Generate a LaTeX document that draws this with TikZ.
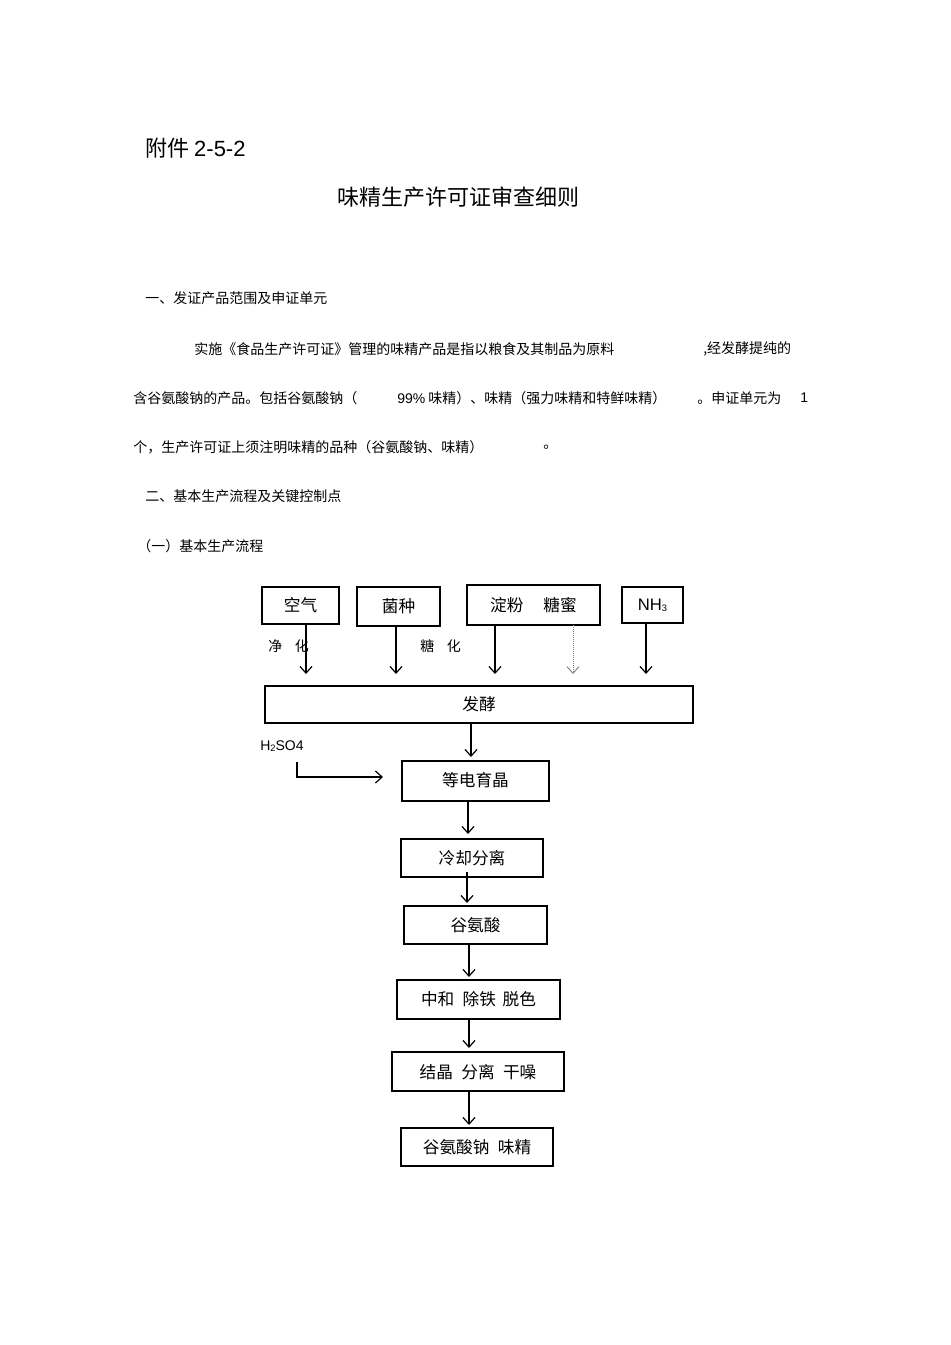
\documentclass[tikz,border=0pt]{standalone}
\usepackage{fontspec}
\setmainfont{Noto Sans CJK SC}
\setsansfont{Liberation Sans}
\usetikzlibrary{arrows.meta}
\begin{document}
\begin{tikzpicture}[x=0.75pt,y=-0.75pt,
  bx/.style={draw,line width=0.8pt,inner sep=0pt},
  ar/.style={-{Straight Barb[length=5pt,width=9pt,line width=0.9pt]},line width=0.9pt},
  tx/.style={anchor=west,inner sep=0pt,font=\fontsize{10.5pt}{12pt}\selectfont},
  bt/.style={font=\fontsize{12.5pt}{14pt}\selectfont}]
\useasboundingbox (0,0) rectangle (950,1345);
\node[anchor=west,inner sep=0pt,font=\fontsize{16.5pt}{18pt}\selectfont] (h) at (145,148) {附件 \textsf{2-5-2}};
\node[inner sep=0pt,font=\fontsize{16.5pt}{18pt}\selectfont] (t) at (458,197) {味精生产许可证审查细则};
\node[tx] (l1) at (145,298) {一、发证产品范围及申证单元};
\node[tx] (l2) at (194,349) {实施《食品生产许可证》管理的味精产品是指以粮食及其制品为原料};
\node[tx] (l2b) at (703,349) {,经发酵提纯的};
\node[tx] (l3) at (133,398) {含谷氨酸钠的产品。包括谷氨酸钠（};
\node[tx] (l3b) at (397,398) {\textsf{99\%} 味精）、味精（强力味精和特鲜味精）};
\node[tx] (l3c) at (697,398) {。申证单元为};
\node[tx] (l3d) at (800,398) {\textsf{1}};
\node[tx] (l4) at (133,447) {个，生产许可证上须注明味精的品种（谷氨酸钠、味精）};
\node[tx] (l4b) at (543,447) {。};
\node[tx] (l5) at (145,496) {二、基本生产流程及关键控制点};
\node[tx] (l6) at (137,546) {（一）基本生产流程};
% boxes
\draw[line width=0.8pt] (262,587) rectangle (339,624); \node[bt] (kq) at (300.5,605) {空气};
\draw[line width=0.8pt] (357,587) rectangle (440,626); \draw[line width=1.6pt] (357,587)--(440,587); \node[bt] (jz) at (398.5,606) {菌种};
\draw[line width=0.8pt] (467,585) rectangle (600,625); \node[bt] (df) at (533.5,605) {淀粉\hspace{1.2em}糖蜜};
\draw[line width=0.8pt] (622,587) rectangle (683,623); \node[bt] (nh) at (652.5,605) {\textsf{NH\raisebox{-0.1ex}{\scriptsize 3}}};
\draw[line width=0.8pt] (265,686) rectangle (693,723); \node[bt] (fj) at (479,704) {发酵};
\coordinate (a1) at (306,624); \coordinate (b1) at (306,674);
\coordinate (a2) at (396,626); \coordinate (b2) at (396,674);
\coordinate (a3) at (495,625); \coordinate (b3) at (495,674);
\coordinate (a4) at (573,625); \coordinate (b4) at (573,674);
\coordinate (a5) at (646,623); \coordinate (b5) at (646,674);
\draw[ar] (a1)--(b1); \draw[ar] (a2)--(b2); \draw[ar] (a3)--(b3);
\draw[-{Straight Barb[length=5pt,width=9pt,line width=0.7pt]},line width=0.5pt,densely dotted,gray] (a4)--(b4);
\draw[ar] (a5)--(b5);
\node[tx] (jh) at (268,646) {净\hspace{0.9em}化};
\node[tx] (th) at (420,646) {糖\hspace{0.9em}化};
\draw[line width=0.8pt] (402,761) rectangle (549,801); \node[bt] (dd) at (475.5,780) {等电育晶};
\draw[ar] (471,723)--(471,757);
\node[anchor=west,inner sep=0pt,font=\sffamily\fontsize{10.5pt}{12pt}\selectfont] (hs) at (260,746) {H\raisebox{-0.1ex}{\scriptsize 2}SO4};
\draw[ar] (297,762)--(297,777)--(383,777);
\draw[line width=0.8pt] (401,839) rectangle (543,877); \node[bt] (lq) at (472,858) {冷却分离};
\draw[ar] (468,801)--(468,834);
\draw[line width=0.8pt] (404,906) rectangle (547,944); \node[bt] (ga) at (475.5,925) {谷氨酸};
\draw[ar] (467,872)--(467,903);
\draw[line width=1.6pt] (397,980) rectangle (560,1019); \node[bt] (zh) at (478.5,999) {中和\hspace{0.5em}除铁\hspace{0.4em}脱色};
\draw[ar] (469,944)--(469,977);
\draw[line width=0.8pt] (392,1052) rectangle (564,1091); \node[bt] (jj) at (478,1072) {结晶\hspace{0.5em}分离\hspace{0.5em}干噪};
\draw[ar] (469,1019)--(469,1048);
\draw[line width=0.8pt] (401,1128) rectangle (553,1166); \node[bt] (gn) at (477,1147) {谷氨酸钠\hspace{0.5em}味精};
\draw[ar] (469,1091)--(469,1125);
\end{tikzpicture}
\end{document}
